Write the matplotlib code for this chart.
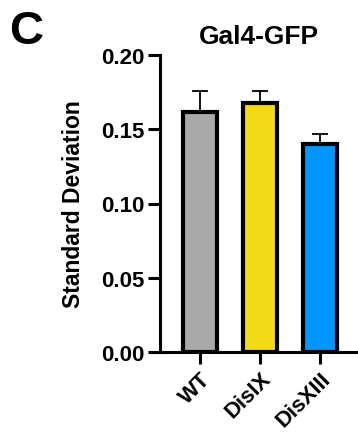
import numpy as np
import matplotlib.pyplot as plt

plt.rcParams['font.family'] = ['Liberation Sans', 'DejaVu Sans']
plt.rcParams['font.weight'] = 'bold'

groups = ["WT", "DisIX", "DisXIII"]
means = [0.1615, 0.1680, 0.1400]
errs = [0.0140, 0.0080, 0.0070]
colors = ["#a9a9a9", "#f2db16", "#0096ff"]

fig = plt.figure(figsize=(3.58, 4.35), dpi=100)
W, H = 358, 435
ax = fig.add_axes([160 / W, (H - 353) / H, (358 - 160) / W, (353 - 56) / H])

x = np.arange(len(groups))
ax.bar(x, means, width=0.57, color=colors, edgecolor="black", linewidth=3.0,
       zorder=2)
ax.errorbar(x, means, yerr=[np.zeros(len(errs)), errs], fmt="none",
            ecolor="black", elinewidth=1.3, capsize=6, capthick=1.3, zorder=1)

ax.set_xlim(-0.667, 2.633)
ax.set_ylim(0, 0.20)
ax.set_yticks([0, 0.05, 0.10, 0.15, 0.20])
ax.set_yticklabels(["0.00", "0.05", "0.10", "0.15", "0.20"])
ax.set_xticks(x)
ax.set_xticklabels(groups, rotation=45, ha="right", rotation_mode="anchor")

for s in ["top", "right"]:
    ax.spines[s].set_visible(False)
for s in ["left", "bottom"]:
    ax.spines[s].set_linewidth(2.2)
ax.tick_params(axis="both", width=2.2, length=8.5, labelsize=16, pad=3)

ax.set_ylabel("Standard Deviation", fontsize=16.5, fontweight="bold", labelpad=11)
ax.set_title("Gal4-GFP", fontsize=19, fontweight="bold", pad=9)

fig.text(9 / W, 1 - 44 / H, "C", fontsize=34, fontweight="bold")

fig.savefig("out.png", dpi=100)
